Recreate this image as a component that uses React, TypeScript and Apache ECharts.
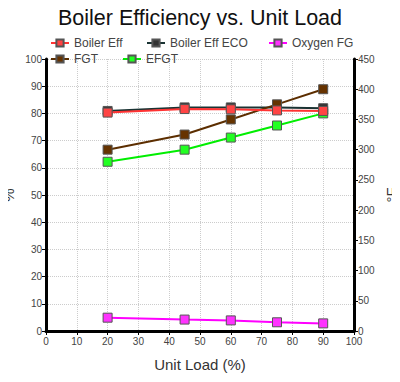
import React, { useEffect, useRef } from "react";
import * as echarts from "echarts";

const unitLoad = [20, 45, 60, 75, 90];
const boilerEff = [80.3, 81.6, 81.5, 81.1, 80.9];
const boilerEffEco = [80.9, 82.2, 82.2, 82.2, 81.9];
const oxygenFG = [4.9, 4.2, 3.9, 3.2, 2.8];
const fgt = [300, 325, 350, 375, 400];
const efgt = [280, 300, 320, 340, 360];

const FONT = "Liberation Sans";

function pairs(vals: number[]) {
  return unitLoad.map((x, i) => [x, vals[i]]);
}

export default function App() {
  const ref = useRef<HTMLDivElement>(null);
  useEffect(() => {
    const chart = echarts.init(ref.current!, null, { renderer: "svg" });
    const mk = (name: string, data: number[], color: string, fill: string, yAxisIndex: number, z: number) => ({
      name,
      type: "line",
      yAxisIndex,
      data: pairs(data),
      symbol: "rect",
      symbolSize: 9,
      z,
      lineStyle: { color, width: 2 },
      itemStyle: { color: fill, borderColor: "#555", borderWidth: 1 },
    });
    const legendBase = {
      top: 37,
      padding: 0,
      itemWidth: 18,
      itemHeight: 9,
      textStyle: { fontFamily: FONT, fontSize: 12, color: "#444" },
    };
    chart.setOption({
      animation: false,
      title: {
        text: "Boiler Efficiency vs. Unit Load",
        left: "center",
        top: 2,
        textStyle: { fontFamily: FONT, fontSize: 21.5, fontWeight: "normal", color: "#111" },
      },
      legend: [
        { ...legendBase, left: 50, data: ["Boiler Eff"] },
        { ...legendBase, left: 146, data: ["Boiler Eff ECO"] },
        { ...legendBase, left: 268, data: ["Oxygen FG"] },
        { ...legendBase, top: 53, left: 50, data: ["FGT"] },
        { ...legendBase, top: 53, left: 122, data: ["EFGT"] },
      ],
      grid: { left: 46, right: 46, top: 59, bottom: 51, outerBoundsMode: "none", containLabel: false },
      xAxis: {
        type: "value",
        min: 0,
        max: 100,
        interval: 10,
        name: "Unit Load (%)",
        nameLocation: "middle",
        nameGap: 26,
        nameMoveOverlap: false,
        nameTextStyle: { fontFamily: FONT, fontSize: 15, color: "#333" },
        axisLine: { lineStyle: { color: "#000", width: 3 } },
        axisTick: { show: true, length: 4, lineStyle: { color: "#000", width: 1 } },
        axisLabel: { fontFamily: FONT, fontSize: 10, color: "#444", margin: 5 },
        splitLine: { show: true, lineStyle: { color: "#ccc", type: "dotted", width: 1 } },
      },
      yAxis: [
        {
          type: "value",
          min: 0,
          max: 100,
          interval: 10,
          name: "%",
          nameLocation: "middle",
          nameRotate: 90,
          nameGap: 30,
          nameMoveOverlap: false,
          nameTextStyle: { fontFamily: FONT, fontSize: 15, color: "#333" },
          axisLine: { show: true, lineStyle: { color: "#000", width: 3 } },
          axisTick: { show: true, length: 4, lineStyle: { color: "#000", width: 1 } },
          axisLabel: { fontFamily: FONT, fontSize: 10, color: "#444", margin: 4 },
          splitLine: { show: true, lineStyle: { color: "#ccc", type: "dotted", width: 1 } },
        },
        {
          type: "value",
          min: 0,
          max: 450,
          interval: 50,
          name: "°F",
          nameLocation: "middle",
          nameRotate: 90,
          nameGap: 30,
          nameMoveOverlap: false,
          nameTextStyle: { fontFamily: FONT, fontSize: 15, color: "#333" },
          axisLine: { show: true, lineStyle: { color: "#000", width: 3 } },
          axisTick: { show: true, length: 4, lineStyle: { color: "#000", width: 1 } },
          axisLabel: { fontFamily: FONT, fontSize: 10, color: "#444", margin: 4 },
          splitLine: { show: false },
        },
      ],
      series: [
        mk("Boiler Eff ECO", boilerEffEco, "#1a3333", "#333333", 0, 2),
        mk("Boiler Eff", boilerEff, "#ff3333", "#ff4444", 0, 3),
        mk("Oxygen FG", oxygenFG, "#ff00ff", "#ff33ff", 0, 2),
        mk("FGT", fgt, "#5c2e00", "#663300", 1, 2),
        mk("EFGT", efgt, "#00ee00", "#22ff22", 1, 2),
      ],
    });
    return () => chart.dispose();
  }, []);
  return <div ref={ref} style={{ width: 400, height: 382, margin: -8 }} />;
}
